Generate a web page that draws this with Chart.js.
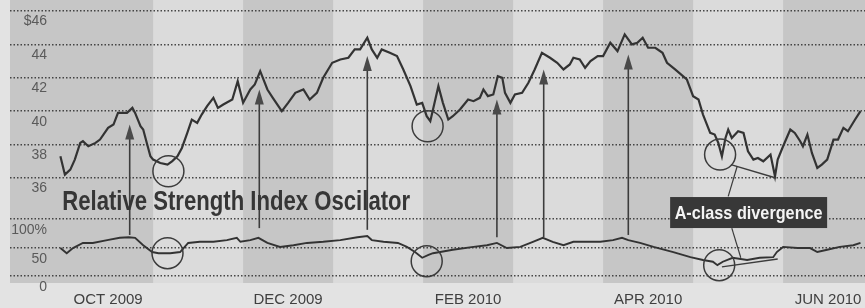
<!DOCTYPE html>
<html>
<head>
<meta charset="utf-8">
<script src="https://cdn.jsdelivr.net/npm/chart.js@4.4.1/dist/chart.umd.min.js"></script>
<style>
  html, body { margin: 0; padding: 0; background: #e2e2e2; }
  canvas { display: block; }
</style>
</head>
<body>
<canvas id="rsiChart" width="865" height="308"></canvas>
<script>
// x values are months counted from 1 Oct 2009 (0 = start of Oct, 1 = start of Nov ...)
var priceMonths = [
  -0.03, 0.02, 0.08, 0.13, 0.19, 0.22, 0.28, 0.36, 0.41, 0.50,
  0.56, 0.61, 0.66, 0.71, 0.77, 0.80, 0.86, 0.89, 0.93, 0.97,
  1.00, 1.08, 1.16, 1.21, 1.27, 1.32, 1.38, 1.43, 1.49, 1.54,
  1.60, 1.67, 1.72, 1.78, 1.88, 1.94, 2.00, 2.08, 2.13, 2.19,
  2.27, 2.33, 2.43, 2.50, 2.58, 2.67, 2.74, 2.82, 2.89, 2.99,
  3.08, 3.17, 3.24, 3.30, 3.38, 3.43, 3.49, 3.54, 3.63, 3.71,
  3.78, 3.86, 3.93, 3.99, 4.04, 4.08, 4.11, 4.17, 4.22, 4.28,
  4.33, 4.41, 4.50, 4.56, 4.63, 4.67, 4.72, 4.78, 4.83, 4.88,
  4.91, 4.97, 5.02, 5.10, 5.17, 5.24, 5.32, 5.41, 5.49, 5.56,
  5.63, 5.67, 5.74, 5.80, 5.86, 5.94, 6.00, 6.08, 6.16, 6.24,
  6.32, 6.38, 6.44, 6.50, 6.58, 6.66, 6.71, 6.80, 6.93, 7.00,
  7.06, 7.11, 7.19, 7.24, 7.28, 7.32, 7.36, 7.39, 7.43, 7.50,
  7.56, 7.61, 7.67, 7.72, 7.78, 7.86, 7.91, 7.94, 8.00, 8.08,
  8.13, 8.19, 8.22, 8.27, 8.32, 8.38, 8.43, 8.49, 8.56, 8.61,
  8.67, 8.72, 8.80, 8.86
];
var priceValues = [
  37.3, 36.2, 36.5, 37.1, 38.1, 38.2, 37.9, 38.1, 38.3, 39.0,
  39.2, 39.9, 39.9, 39.9, 40.2, 39.9, 39.1, 38.9, 38.1, 37.3,
  37.1, 36.9, 36.8, 37.0, 37.3, 37.8, 38.7, 39.5, 39.3, 39.8,
  40.3, 40.8, 40.2, 40.4, 40.7, 41.8, 40.5, 41.3, 41.6, 42.4,
  41.3, 40.8, 40.0, 40.5, 41.1, 41.3, 40.7, 41.1, 42.0, 42.9,
  43.1, 43.2, 43.7, 43.7, 44.4, 43.7, 43.2, 43.7, 43.5, 43.3,
  42.5, 41.5, 40.4, 40.5, 39.7, 39.4, 40.1, 41.5, 40.5, 39.5,
  39.7, 40.1, 40.7, 40.6, 40.8, 41.3, 40.9, 41.0, 42.1, 42.0,
  41.1, 40.5, 41.0, 41.1, 41.7, 42.5, 43.5, 43.2, 42.9, 42.5,
  42.8, 43.2, 43.1, 42.6, 43.0, 43.3, 43.3, 44.1, 43.6, 44.6,
  44.0, 44.1, 44.4, 43.8, 43.8, 43.5, 42.9, 42.5, 41.9, 40.9,
  40.7, 39.8, 38.7, 38.6, 38.1, 37.3, 38.4, 38.9, 38.4, 38.8,
  38.7, 37.6, 37.1, 37.2, 37.0, 37.4, 36.1, 37.1, 37.9, 38.9,
  38.7, 38.2, 37.9, 38.6, 37.5, 36.6, 36.8, 37.1, 38.3, 38.3,
  39.0, 38.8, 39.5, 40.0
];
var rsiMonths = [
  -0.03, 0.04, 0.11, 0.22, 0.33, 0.49, 0.63, 0.73, 0.80, 0.89,
  0.99, 1.06, 1.19, 1.30, 1.39, 1.52, 1.67, 1.82, 1.93, 1.97,
  2.08, 2.17, 2.27, 2.41, 2.56, 2.71, 2.89, 3.08, 3.27, 3.38,
  3.43, 3.56, 3.72, 3.82, 3.91, 3.99, 4.06, 4.11, 4.19, 4.33,
  4.56, 4.71, 4.82, 4.93, 5.08, 5.22, 5.33, 5.44, 5.56, 5.67,
  5.82, 5.97, 6.11, 6.21, 6.28, 6.41, 6.56, 6.78, 6.97, 7.11,
  7.22, 7.27, 7.33, 7.44, 7.60, 7.74, 7.89, 7.93, 8.00, 8.16,
  8.30, 8.38, 8.49, 8.63, 8.78, 8.86
];
var rsiValues = [
  49, 40, 49, 58, 58, 63, 67, 68, 67, 54,
  42, 40, 40, 42, 58, 60, 60, 63, 67, 60,
  63, 67, 58, 51, 54, 58, 60, 63, 68, 70,
  63, 60, 58, 51, 42, 32, 37, 40, 42, 46,
  51, 54, 58, 49, 51, 60, 67, 60, 54, 60,
  60, 60, 63, 67, 63, 58, 51, 42, 33, 28,
  25, 19, 25, 32, 28, 32, 33, 42, 51, 49,
  49, 42, 46, 51, 54, 58
];

var monthTicks = [0.5, 2.5, 4.5, 6.5, 8.5];
var monthLabels = ['OCT 2009', 'DEC 2009', 'FEB 2010', 'APR 2010', 'JUN 2010'];
var priceTicks = [36, 38, 40, 42, 44, 46];
var rsiTicks = [0, 50, 100];
var shadedMonths = [[-1, 1], [2, 3], [4, 5], [6, 7], [8, 10]];

// arrows from RSI highs up to price highs
var arrowMonths = [0.74, 2.18, 3.38, 4.82, 5.34, 6.28];
var arrowRsi = [72, 84, 81, 68, 68, 72];
var arrowPrice = [39.2, 41.3, 43.3, 40.7, 42.5, 43.4];
// circled lows: [month, value]
var priceCircles = [[1.17, 36.4], [4.05, 39.1], [7.30, 37.4]];
var rsiCircles = [[1.16, 40], [4.04, 26], [7.29, 19]];
// divergence trend lines
var priceTrend = [[7.42, 36.8], [7.92, 36.0]];
var rsiTrend = [[7.32, 16], [7.94, 30]];

var sans = '"Liberation Sans", Arial, sans-serif';
var tickFont = { family: sans, size: 14 };

function widest(labels, font) {
  var c = document.createElement('canvas').getContext('2d');
  c.font = font.size + 'px ' + font.family;
  return Math.max.apply(null, labels.map(function (t) { return c.measureText(t).width; }));
}
function priceLabel(v) { return v === 46 ? '$46' : String(v); }
function rsiLabel(v) { return v === 100 ? '100%' : String(v); }

var plotLeft = 10, labelRight = 47;
var pricePad = labelRight - plotLeft - widest(priceTicks.map(priceLabel), tickFont);
var rsiPad = labelRight - plotLeft - widest(rsiTicks.map(rsiLabel), tickFont);

function zip(xs, ys) {
  return xs.map(function (x, i) { return { x: x, y: ys[i] }; });
}

// no condensed face is installed, so squeeze the bold text to the width it has in print
function squeezeText(ctx, text, x, y, width) {
  var w = ctx.measureText(text).width;
  ctx.save();
  ctx.translate(x, y);
  ctx.scale(Math.min(1, width / w), 1);
  ctx.fillText(text, 0, 0);
  ctx.restore();
}

var bandsPlugin = {
  id: 'bands',
  beforeDraw: function (chart) {
    var ctx = chart.ctx, a = chart.chartArea, x = chart.scales.x;
    ctx.save();
    ctx.fillStyle = '#e3e3e3';
    ctx.fillRect(0, 0, chart.width, chart.height);
    ctx.fillStyle = '#dbdbdb';
    ctx.fillRect(a.left, a.top, a.right - a.left, a.bottom - a.top);
    ctx.fillStyle = '#c6c6c6';
    shadedMonths.forEach(function (b) {
      var x0 = Math.max(a.left, x.getPixelForValue(b[0]));
      var x1 = Math.min(a.right, x.getPixelForValue(b[1]));
      ctx.fillRect(x0, a.top, x1 - x0, a.bottom - a.top);
    });
    ctx.restore();
  }
};

var notesPlugin = {
  id: 'notes',
  afterDatasetsDraw: function (chart) {
    var ctx = chart.ctx, x = chart.scales.x, yp = chart.scales.yPrice, yr = chart.scales.yRsi;
    ctx.save();
    ctx.strokeStyle = '#3c3c3c';
    ctx.fillStyle = '#4a4a4a';
    ctx.lineWidth = 1.6;
    arrowMonths.forEach(function (m, i) {
      var ax = x.getPixelForValue(m);
      var y0 = yr.getPixelForValue(arrowRsi[i]);
      var y1 = yp.getPixelForValue(arrowPrice[i]);
      ctx.beginPath();
      ctx.moveTo(ax, y0);
      ctx.lineTo(ax, y1 + 12);
      ctx.stroke();
      ctx.beginPath();
      ctx.moveTo(ax, y1);
      ctx.lineTo(ax - 4.5, y1 + 15);
      ctx.lineTo(ax + 4.5, y1 + 15);
      ctx.closePath();
      ctx.fill();
    });

    ctx.lineWidth = 1.5;
    function circle(c, scale) {
      ctx.beginPath();
      ctx.arc(x.getPixelForValue(c[0]), scale.getPixelForValue(c[1]), 15.5, 0, Math.PI * 2);
      ctx.stroke();
    }
    priceCircles.forEach(function (c) { circle(c, yp); });
    rsiCircles.forEach(function (c) { circle(c, yr); });

    function seg(p, q, sp, sq) {
      ctx.beginPath();
      ctx.moveTo(x.getPixelForValue(p[0]), sp.getPixelForValue(p[1]));
      ctx.lineTo(x.getPixelForValue(q[0]), sq.getPixelForValue(q[1]));
      ctx.stroke();
    }
    seg(priceTrend[0], priceTrend[1], yp, yp);
    seg(rsiTrend[0], rsiTrend[1], yr, yr);
    // pointers from the label box to the two trend lines
    ctx.lineWidth = 1.2;
    seg([7.39, 34.9], [7.49, 36.7], yp, yp);
    seg([7.43, 84], [7.53, 32], yr, yr);

    // oscillator title
    ctx.fillStyle = '#363636';
    ctx.font = 'bold 28px ' + sans;
    ctx.textAlign = 'left';
    ctx.textBaseline = 'alphabetic';
    squeezeText(ctx, 'Relative Strength Index Oscilator',
      x.getPixelForValue(-0.01), yp.getPixelForValue(34.08), 348);

    // divergence label box
    var bx = x.getPixelForValue(7.617), by = yp.getPixelForValue(33.93);
    ctx.fillStyle = '#383838';
    ctx.fillRect(bx - 78.5, by - 15.5, 157, 31);
    ctx.fillStyle = '#f4f4f4';
    ctx.font = 'bold 19px ' + sans;
    ctx.textAlign = 'center';
    ctx.textBaseline = 'middle';
    squeezeText(ctx, 'A-class divergence', bx, by + 1, 148);
    ctx.restore();
  }
};

function noPadding(scale) {
  scale.paddingTop = 0;
  scale.paddingBottom = 0;
  scale.paddingLeft = 0;
  scale.paddingRight = 0;
}

var grid = { color: 'rgba(45,45,45,0.85)', lineWidth: 1.5, drawTicks: false };

new Chart(document.getElementById('rsiChart').getContext('2d'), {
  type: 'line',
  data: {
    datasets: [{
      label: 'Price',
      data: zip(priceMonths, priceValues),
      yAxisID: 'yPrice',
      borderColor: '#333333',
      borderWidth: 2.2,
      pointRadius: 0,
      tension: 0
    }, {
      label: 'RSI',
      data: zip(rsiMonths, rsiValues),
      yAxisID: 'yRsi',
      borderColor: '#333333',
      borderWidth: 1.9,
      pointRadius: 0,
      tension: 0
    }]
  },
  options: {
    responsive: false,
    animation: false,
    layout: { padding: { left: plotLeft, right: 0, top: 0, bottom: 0 } },
    plugins: { legend: { display: false }, tooltip: { enabled: false } },
    scales: {
      x: {
        type: 'linear',
        min: -0.59,
        max: 8.91,
        grid: { display: false },
        border: { display: false },
        ticks: {
          autoSkip: false,
          maxRotation: 0,
          padding: 0,
          color: '#404040',
          font: { family: sans, size: 15 },
          callback: function (v, i) { return monthLabels[i]; }
        },
        afterBuildTicks: function (s) { s.ticks = monthTicks.map(function (v) { return { value: v }; }); },
        afterFit: function (s) { s.height = 25; noPadding(s); }
      },
      yPrice: {
        type: 'linear',
        position: 'left',
        min: 29.71,
        max: 46.66,
        grid: grid,
        border: { display: false, dash: [1.5, 2] },
        ticks: {
          mirror: true,
          crossAlign: 'far',
          padding: pricePad,
          labelOffset: 10.5,
          color: '#5a5a5a',
          font: tickFont,
          callback: priceLabel
        },
        afterBuildTicks: function (s) { s.ticks = priceTicks.map(function (v) { return { value: v }; }); },
        afterFit: function (s) { s.width = 0; noPadding(s); }
      },
      yRsi: {
        type: 'linear',
        position: 'left',
        min: -12.3,
        max: 484.2,
        grid: grid,
        border: { display: false, dash: [1.5, 2] },
        ticks: {
          mirror: true,
          crossAlign: 'far',
          padding: rsiPad,
          labelOffset: 11.5,
          color: '#5a5a5a',
          font: tickFont,
          callback: rsiLabel
        },
        afterBuildTicks: function (s) { s.ticks = rsiTicks.map(function (v) { return { value: v }; }); },
        afterFit: function (s) { s.width = 0; noPadding(s); }
      }
    }
  },
  plugins: [bandsPlugin, notesPlugin]
});
</script>
</body>
</html>
